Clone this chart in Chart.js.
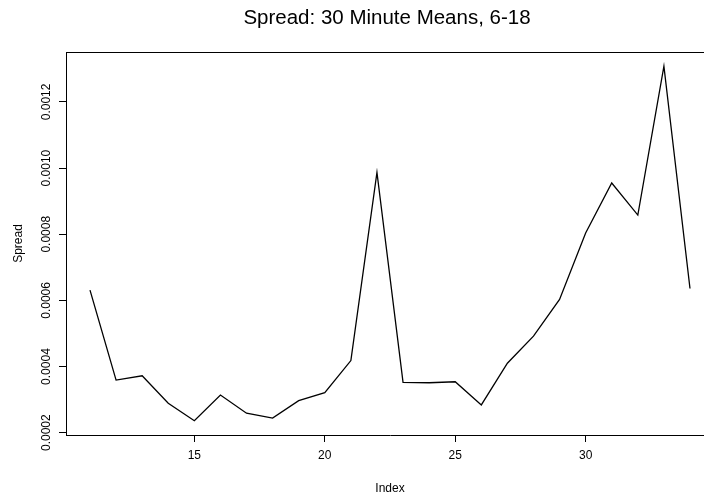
<!DOCTYPE html>
<html>
<head>
<meta charset="utf-8">
<script src="https://cdn.jsdelivr.net/npm/chart.js@4.4.1/dist/chart.umd.min.js"></script>
<style>
    html, body { margin: 0; padding: 0; background: #fff; overflow: hidden; }
    #wrap { width: 704px; height: 498px; overflow: hidden; }
    #box { width: 740px; height: 498px; }
</style>
</head>
<body>
<div id="wrap"><div id="box"><canvas id="spreadChart"></canvas></div></div>
<script>
const indexValues = [11, 12, 13, 14, 15, 16, 17, 18, 19, 20, 21, 22, 23, 24, 25, 26, 27, 28, 29, 30, 31, 32, 33, 34];
const spreadValues = [
    0.000631, 0.000359, 0.000372, 0.000289, 0.000236, 0.000314, 0.000259, 0.000244,
    0.000297, 0.000321, 0.000418, 0.000987, 0.000352, 0.000351, 0.000354, 0.000284,
    0.000410, 0.000492, 0.000603, 0.000804, 0.000955, 0.000858, 0.001308, 0.000636,
];
const xTicks = [15, 20, 25, 30];
const yTicks = [0.0002, 0.0004, 0.0006, 0.0008, 0.0010, 0.0012];
const yTickLabels = ['0.0002', '0.0004', '0.0006', '0.0008', '0.0010', '0.0012'];
const chartTitle = 'Spread: 30 Minute Means, 6-18';
const xTitle = 'Index';
const yTitle = 'Spread';

const fontFamily = '"Liberation Sans", Arial, Helvetica, sans-serif';

// R-style text: main title, axis titles, y labels parallel to the axis, and the plot box
const rTextPlugin = {
    id: 'rText',
    afterDraw(chart) {
        const ctx = chart.ctx;
        const area = chart.chartArea;
        const yScale = chart.scales.y;
        ctx.save();
        ctx.strokeStyle = '#000';
        ctx.lineWidth = 1;
        ctx.beginPath();
        ctx.moveTo(area.left, area.top + 0.5);
        ctx.lineTo(area.right, area.top + 0.5);
        ctx.lineTo(area.right, area.bottom);
        ctx.stroke();

        ctx.fillStyle = '#000';
        ctx.textAlign = 'center';
        ctx.textBaseline = 'alphabetic';
        ctx.font = `20.5px ${fontFamily}`;
        ctx.fillText(chartTitle, (area.left + area.right) / 2 - 3, 24);

        ctx.textBaseline = 'middle';
        ctx.font = `12px ${fontFamily}`;
        ctx.fillText(xTitle, (area.left + area.right) / 2, 489);

        yTicks.forEach((value, i) => {
            ctx.save();
            ctx.translate(47, yScale.getPixelForValue(value));
            ctx.rotate(-Math.PI / 2);
            ctx.fillText(yTickLabels[i], 0, 0);
            ctx.restore();
        });

        ctx.save();
        ctx.translate(19, (area.top + area.bottom) / 2);
        ctx.rotate(-Math.PI / 2);
        ctx.fillText(yTitle, 0, 0);
        ctx.restore();
        ctx.restore();
    },
};

const ctx = document.getElementById('spreadChart').getContext('2d');
new Chart(ctx, {
    type: 'line',
    data: {
        datasets: [{
            data: indexValues.map((x, i) => ({ x, y: spreadValues[i] })),
            borderColor: '#000',
            borderWidth: 1.3,
            pointRadius: 0,
            tension: 0,
            fill: false,
        }],
    },
    options: {
        responsive: true,
        maintainAspectRatio: false,
        animation: false,
        layout: { padding: { top: 52, right: 26, left: 0, bottom: 0 } },
        plugins: { legend: { display: false }, tooltip: { enabled: false } },
        scales: {
            x: {
                type: 'linear',
                min: 10.08,
                max: 34.92,
                afterBuildTicks(scale) { scale.ticks = xTicks.map((value) => ({ value })); },
                afterFit(scale) { scale.height = 63; },
                ticks: {
                    color: '#000',
                    font: { family: fontFamily, size: 12 },
                    padding: 6,
                    maxRotation: 0,
                    autoSkip: false,
                },
                grid: { drawOnChartArea: false, tickLength: 7, tickColor: '#000', tickWidth: 1 },
                border: { display: true, color: '#000', width: 1 },
            },
            y: {
                min: 0.000193,
                max: 0.001351,
                afterBuildTicks(scale) { scale.ticks = yTicks.map((value) => ({ value })); },
                afterFit(scale) { scale.width = 66; },
                ticks: { display: false },
                grid: { drawOnChartArea: false, tickLength: 7, tickColor: '#000', tickWidth: 1 },
                border: { display: true, color: '#000', width: 1 },
            },
        },
    },
    plugins: [rTextPlugin],
});
</script>
</body>
</html>
